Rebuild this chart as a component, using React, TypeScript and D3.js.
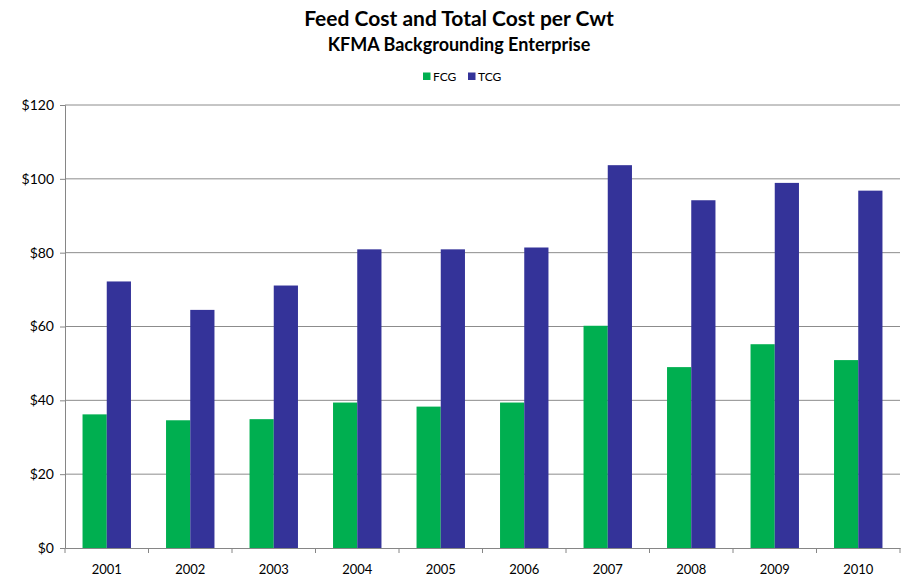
import React, { useEffect, useRef } from "react";
import * as d3 from "d3";

const years = ["2001", "2002", "2003", "2004", "2005", "2006", "2007", "2008", "2009", "2010"];
const fcg = [36.2, 34.6, 34.9, 39.4, 38.3, 39.4, 60.2, 49.0, 55.2, 50.9];
const tcg = [72.2, 64.5, 71.1, 80.9, 80.9, 81.4, 103.7, 94.2, 98.9, 96.8];
const yTicks = [0, 20, 40, 60, 80, 100, 120];
const seriesNames = ["FCG", "TCG"];
const seriesColors = ["#00AF50", "#343399"];

const W = 911, H = 582;
const M = { left: 65, right: 11, top: 105, bottom: 34 };

export default function App() {
  const ref = useRef<SVGSVGElement>(null);
  useEffect(() => {
    const svg = d3.select(ref.current);
    svg.selectAll("*").remove();
    const font = "Lato, 'Open Sans', sans-serif";
    const x0 = d3.scaleBand().domain(years).range([M.left, W - M.right]).paddingInner(0).paddingOuter(0);
    const y = d3.scaleLinear().domain([0, 120]).range([H - M.bottom, M.top]);
    const bw = x0.bandwidth();
    const x1 = d3.scaleBand().domain(seriesNames).range([bw * 0.21, bw * 0.79]).padding(0);

    // gridlines
    svg.append("g").selectAll("line").data(yTicks.filter(d => d > 0)).join("line")
      .attr("x1", M.left).attr("x2", W - M.right)
      .attr("y1", d => y(d)).attr("y2", d => y(d))
      .attr("stroke", "#8c8c8c").attr("stroke-width", 1);

    const data = [fcg, tcg];
    data.forEach((vals, si) => {
      svg.append("g").selectAll("rect").data(vals).join("rect")
        .attr("x", (d, i) => (x0(years[i]) as number) + (x1(seriesNames[si]) as number))
        .attr("y", d => y(d))
        .attr("width", x1.bandwidth())
        .attr("height", d => y(0) - y(d))
        .attr("fill", seriesColors[si]);
    });

    // axes
    const ya = svg.append("g").attr("transform", `translate(${M.left},0)`)
      .call(d3.axisLeft(y).tickValues(yTicks).tickSize(5).tickPadding(6).tickFormat(d => `$${d}`));
    ya.select(".domain").attr("stroke", "#868686");
    ya.selectAll(".tick line").attr("stroke", "#868686");
    ya.selectAll("text").attr("font-family", font).attr("font-size", 14).attr("fill", "#000");

    const xa = svg.append("g").attr("transform", `translate(0,${y(0)})`)
      .call(d3.axisBottom(x0).tickSize(0).tickPadding(17));
    xa.select(".domain").attr("stroke", "#868686");
    xa.selectAll("text").attr("font-family", font).attr("font-size", 13).attr("fill", "#000");
    svg.append("g").selectAll("line").data(d3.range(years.length + 1)).join("line")
      .attr("x1", i => M.left + i * bw).attr("x2", i => M.left + i * bw)
      .attr("y1", y(0)).attr("y2", y(0) + 5).attr("stroke", "#868686");

    // titles
    svg.append("text").attr("x", 459).attr("y", 26).attr("text-anchor", "middle")
      .attr("font-family", font).attr("font-weight", "bold").attr("font-size", 21).text("Feed Cost and Total Cost per Cwt");
    svg.append("text").attr("x", 459).attr("y", 51).attr("text-anchor", "middle")
      .attr("font-family", font).attr("font-weight", "bold").attr("font-size", 18).text("KFMA Backgrounding Enterprise");

    // legend
    const lx = [423, 468];
    seriesNames.forEach((n, i) => {
      svg.append("rect").attr("x", lx[i]).attr("y", 72.5).attr("width", 7.5).attr("height", 7.5).attr("fill", seriesColors[i]);
      svg.append("text").attr("x", lx[i] + 10).attr("y", 80.5).attr("font-family", font).attr("font-size", 12).text(n);
    });
  }, []);
  return <svg ref={ref} width={W} height={H} style={{ position: "absolute", left: 0, top: 0, background: "#fff" }} />;
}
